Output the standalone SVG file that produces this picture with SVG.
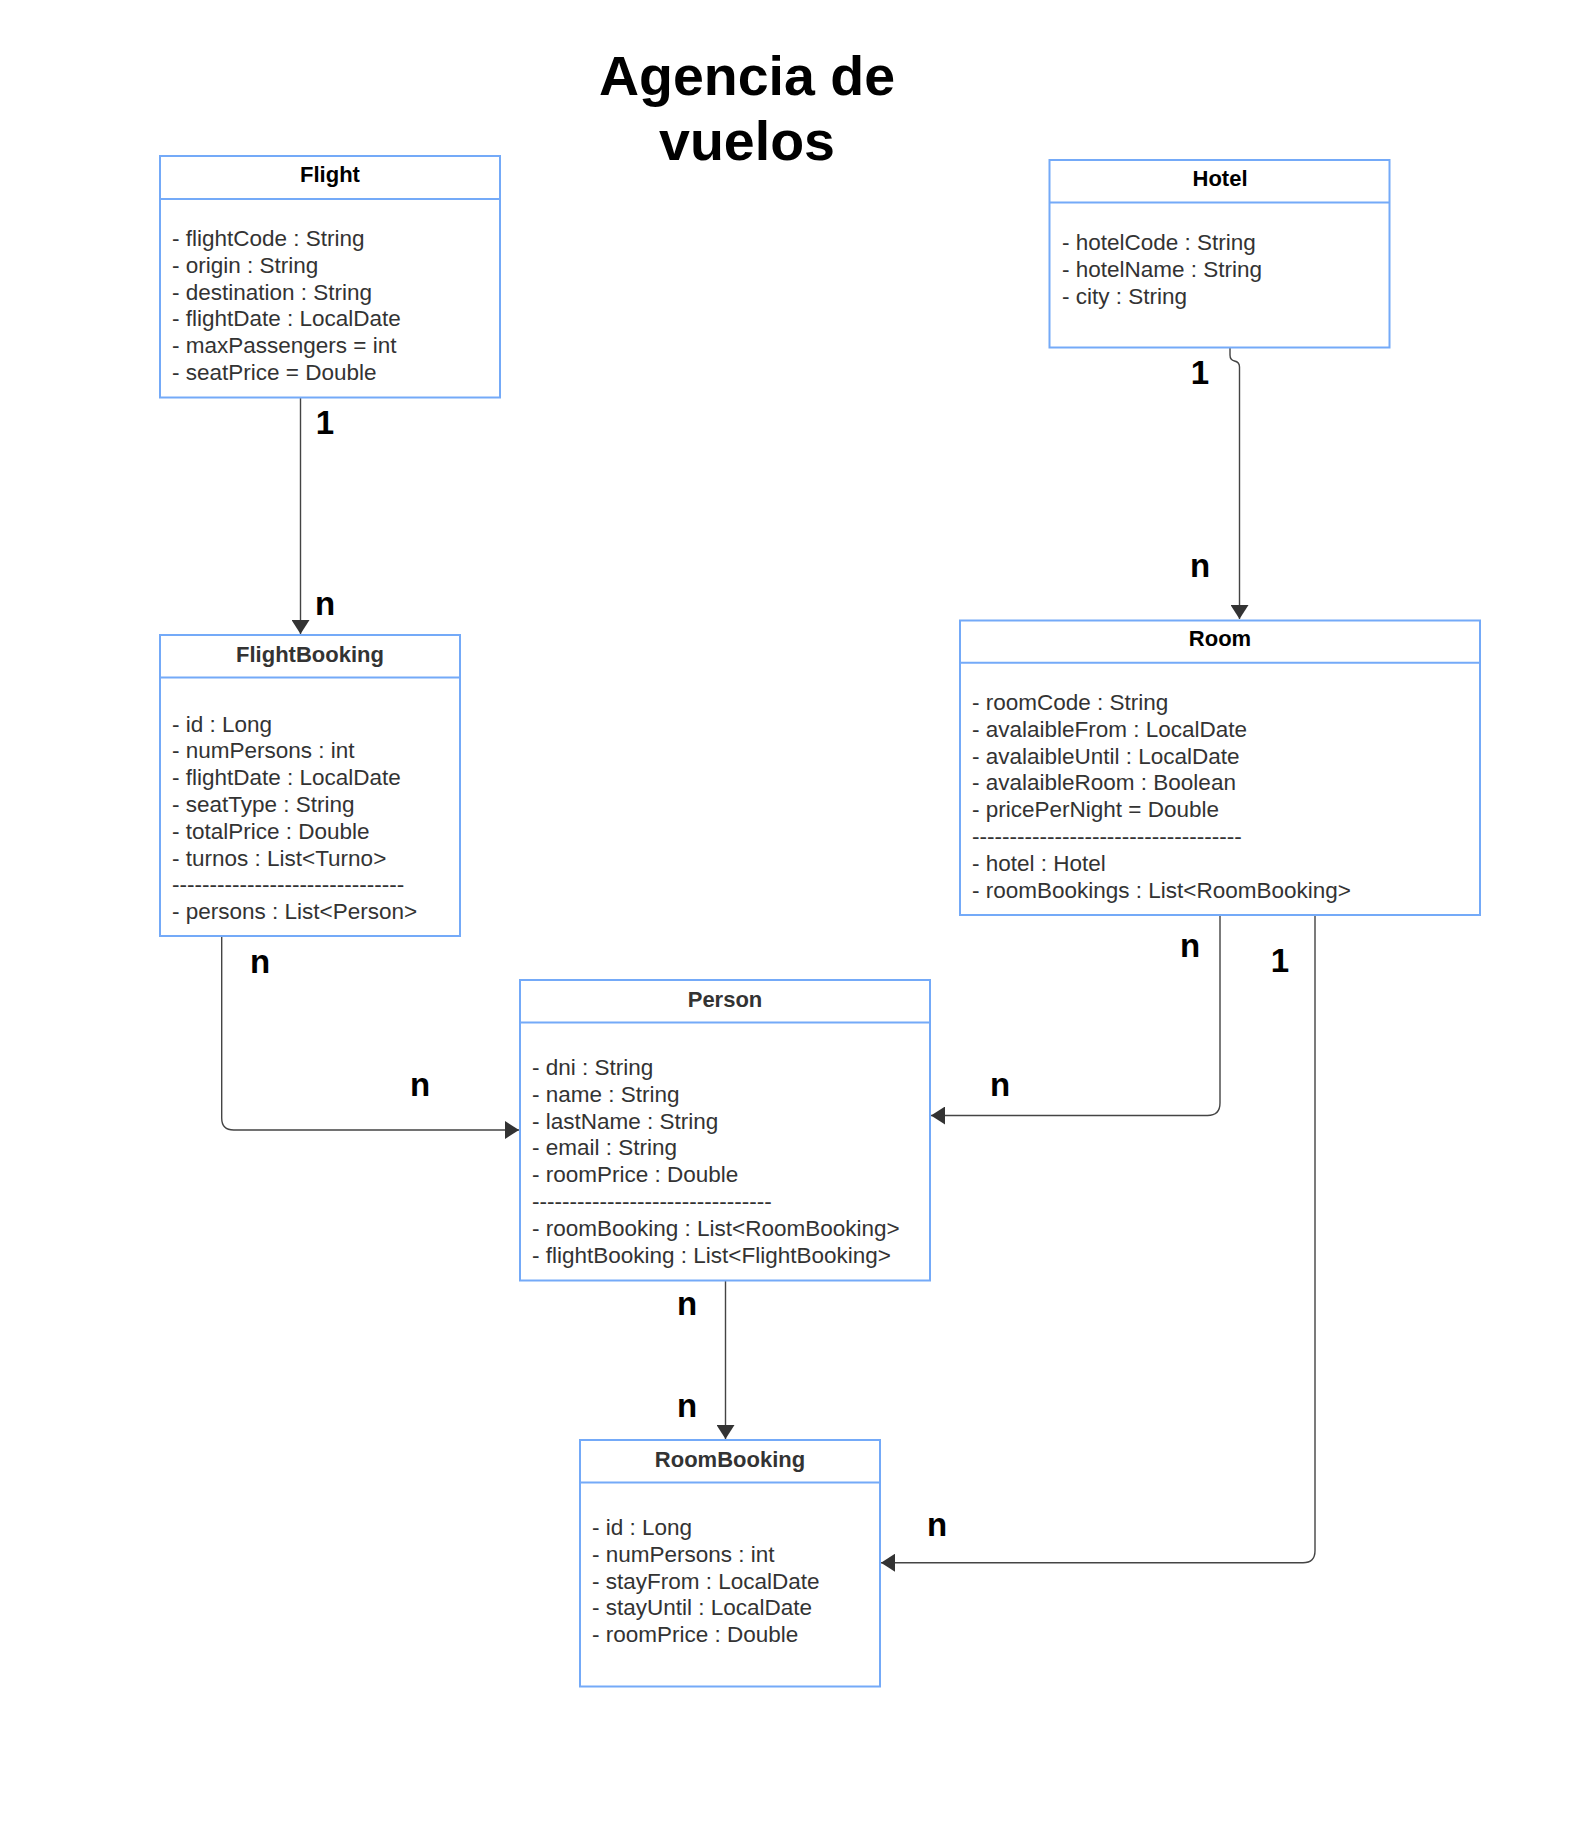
<svg xmlns="http://www.w3.org/2000/svg" width="1579" height="1821" viewBox="0 0 1579 1821">
<style>
.box{fill:#fff;stroke:#74aaf8;stroke-width:2}
.div{stroke:#74aaf8;stroke-width:2}
.ttl{font-family:"Liberation Sans",Arial,sans-serif;font-weight:bold;font-size:22px;text-anchor:middle}
.att{font-family:"Liberation Sans",Arial,sans-serif;font-size:22.5px;fill:#333}
.lbl{font-family:"Liberation Sans",Arial,sans-serif;font-weight:bold;font-size:33px;text-anchor:middle;fill:#000}
.head{font-family:"Liberation Sans",Arial,sans-serif;font-weight:bold;font-size:55.5px;text-anchor:middle;fill:#000}
.con{fill:none;stroke:#444;stroke-width:1.4}
</style>
<defs>
<marker id="arr" markerUnits="userSpaceOnUse" markerWidth="14" markerHeight="18" refX="14" refY="9" orient="auto">
<path d="M0,0 L14,9 L0,18 z" fill="#333"/>
</marker>
</defs>
<rect width="1579" height="1821" fill="#fff"/>
<g id="title">
<text class="head" x="747" y="95">Agencia de</text>
<text class="head" x="747" y="160">vuelos</text>
</g>
<g id="connectors">
<path class="con" d="M300.5,398 V634" marker-end="url(#arr)"/>
<path class="con" d="M1230,348 L1230,355 Q1230,360 1234.5,361 Q1239.5,362 1239.5,367 L1239.5,619" marker-end="url(#arr)"/>
<path class="con" d="M221.7,936 V1118 Q221.7,1130 233.7,1130 H519" marker-end="url(#arr)"/>
<path class="con" d="M1220,915 V1103 Q1220,1115.5 1207.5,1115.5 H931" marker-end="url(#arr)"/>
<path class="con" d="M1315,915 V1550.7 Q1315,1562.7 1303,1562.7 H881" marker-end="url(#arr)"/>
<path class="con" d="M725.5,1281 V1439" marker-end="url(#arr)"/>
</g>
<g id="labels">
<text class="lbl" x="325" y="434">1</text>
<text class="lbl" x="325" y="615">n</text>
<text class="lbl" x="1200" y="384">1</text>
<text class="lbl" x="1200" y="577">n</text>
<text class="lbl" x="260" y="973">n</text>
<text class="lbl" x="420" y="1096">n</text>
<text class="lbl" x="1190" y="957">n</text>
<text class="lbl" x="1280" y="972">1</text>
<text class="lbl" x="1000" y="1096">n</text>
<text class="lbl" x="687" y="1315">n</text>
<text class="lbl" x="687" y="1417">n</text>
<text class="lbl" x="937" y="1536">n</text>
</g>
<g id="Flight">
<rect class="box" x="160" y="156" width="340" height="241.5"/>
<line class="div" x1="160" y1="199" x2="500" y2="199"/>
<text class="ttl" x="330" y="182" fill="#000">Flight</text>
<text class="att"><tspan x="172" y="246">- flightCode : String</tspan><tspan x="172" y="272.8">- origin : String</tspan><tspan x="172" y="299.6">- destination : String</tspan><tspan x="172" y="326.4">- flightDate : LocalDate</tspan><tspan x="172" y="353.2">- maxPassengers = int</tspan><tspan x="172" y="380">- seatPrice = Double</tspan></text>
</g>
<g id="Hotel">
<rect class="box" x="1049.5" y="160" width="340" height="187.5"/>
<line class="div" x1="1049.5" y1="202.5" x2="1389.5" y2="202.5"/>
<text class="ttl" x="1220" y="186" fill="#000">Hotel</text>
<text class="att"><tspan x="1062" y="250">- hotelCode : String</tspan><tspan x="1062" y="276.8">- hotelName : String</tspan><tspan x="1062" y="303.6">- city : String</tspan></text>
</g>
<g id="FlightBooking">
<rect class="box" x="160" y="635" width="300" height="301"/>
<line class="div" x1="160" y1="677.5" x2="460" y2="677.5"/>
<text class="ttl" x="310" y="661.5" fill="#333">FlightBooking</text>
<text class="att"><tspan x="172" y="731.5">- id : Long</tspan><tspan x="172" y="758.3">- numPersons : int</tspan><tspan x="172" y="785.1">- flightDate : LocalDate</tspan><tspan x="172" y="811.9">- seatType : String</tspan><tspan x="172" y="838.7">- totalPrice : Double</tspan><tspan x="172" y="865.5">- turnos : List&lt;Turno&gt;</tspan><tspan x="172" y="892.3">-------------------------------</tspan><tspan x="172" y="919.1">- persons : List&lt;Person&gt;</tspan></text>
</g>
<g id="Room">
<rect class="box" x="960" y="620.5" width="520" height="294.5"/>
<line class="div" x1="960" y1="662.7" x2="1480" y2="662.7"/>
<text class="ttl" x="1220" y="646" fill="#000">Room</text>
<text class="att"><tspan x="972" y="710">- roomCode : String</tspan><tspan x="972" y="736.8">- avalaibleFrom : LocalDate</tspan><tspan x="972" y="763.6">- avalaibleUntil : LocalDate</tspan><tspan x="972" y="790.4">- avalaibleRoom : Boolean</tspan><tspan x="972" y="817.2">- pricePerNight = Double</tspan><tspan x="972" y="844">------------------------------------</tspan><tspan x="972" y="870.8">- hotel : Hotel</tspan><tspan x="972" y="897.6">- roomBookings : List&lt;RoomBooking&gt;</tspan></text>
</g>
<g id="Person">
<rect class="box" x="520" y="980" width="410" height="300.5"/>
<line class="div" x1="520" y1="1022.5" x2="930" y2="1022.5"/>
<text class="ttl" x="725" y="1006.5" fill="#333">Person</text>
<text class="att"><tspan x="532" y="1075">- dni : String</tspan><tspan x="532" y="1101.8">- name : String</tspan><tspan x="532" y="1128.6">- lastName : String</tspan><tspan x="532" y="1155.4">- email : String</tspan><tspan x="532" y="1182.2">- roomPrice : Double</tspan><tspan x="532" y="1209">--------------------------------</tspan><tspan x="532" y="1235.8">- roomBooking : List&lt;RoomBooking&gt;</tspan><tspan x="532" y="1262.6">- flightBooking : List&lt;FlightBooking&gt;</tspan></text>
</g>
<g id="RoomBooking">
<rect class="box" x="580" y="1440" width="300" height="246.5"/>
<line class="div" x1="580" y1="1482.5" x2="880" y2="1482.5"/>
<text class="ttl" x="730" y="1466.5" fill="#333">RoomBooking</text>
<text class="att"><tspan x="592" y="1535">- id : Long</tspan><tspan x="592" y="1561.8">- numPersons : int</tspan><tspan x="592" y="1588.6">- stayFrom : LocalDate</tspan><tspan x="592" y="1615.4">- stayUntil : LocalDate</tspan><tspan x="592" y="1642.2">- roomPrice : Double</tspan></text>
</g>
</svg>
